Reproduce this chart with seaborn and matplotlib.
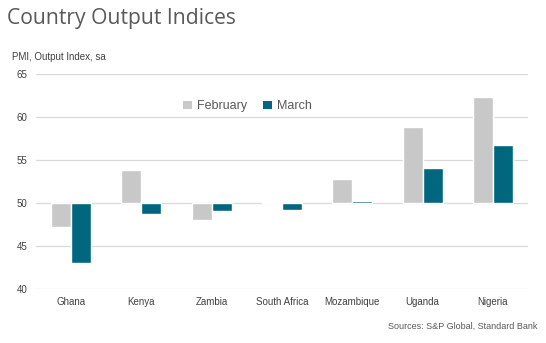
import matplotlib
matplotlib.use("Agg")
import matplotlib.pyplot as plt
from matplotlib.patches import Patch
import seaborn as sns
import pandas as pd

countries = ["Ghana", "Kenya", "Zambia", "South Africa", "Mozambique", "Uganda", "Nigeria"]
february = [47.2, 53.8, 48.0, 50.1, 52.8, 58.8, 62.3]
march = [43.0, 48.7, 49.1, 49.2, 50.3, 54.1, 56.7]
months = ["February", "March"]
colors = ["#C8C8C8", "#00677F"]
yticks = [40, 45, 50, 55, 60, 65]
baseline = 50

sns.set_theme(style="white")
plt.rcParams["font.family"] = ["Liberation Sans", "DejaVu Sans"]

df = pd.DataFrame({
    "country": countries * 2,
    "month": [months[0]] * len(countries) + [months[1]] * len(countries),
    "value": february + march,
})
df["delta"] = df["value"] - baseline

fig = plt.figure(figsize=(5.46, 3.43), dpi=100)
ax = fig.add_axes([0.066, 0.157, 0.901, 0.627])

# bars grow up or down from the 50 line
sns.barplot(data=df, x="country", y="delta", hue="month", order=countries,
            hue_order=months, palette=colors, width=0.57,
            bottom=baseline, ax=ax, saturation=1, errorbar=None, legend=False)

ax.set_ylim(40, 65)
ax.set_xlim(-0.5, len(countries) - 0.5)
ax.set_yticks(yticks)
ax.set_yticklabels([str(t) for t in yticks])
ax.grid(axis="y", color="#D9D9D9", linewidth=0.9)
ax.set_axisbelow(True)
for s in ax.spines.values():
    s.set_visible(False)
ax.tick_params(axis="both", length=0, labelsize=7, labelcolor="#404040")
ax.tick_params(axis="y", pad=6)
ax.tick_params(axis="x", pad=6)
ax.set_xlabel("")
ax.set_ylabel("")

handles = [Patch(facecolor=c, edgecolor="none", label=m) for m, c in zip(months, colors)]
leg = ax.legend(handles=handles, loc="upper center", bbox_to_anchor=(0.43, 0.93), ncol=2,
                frameon=False, fontsize=9, handlelength=0.7, handleheight=0.7,
                handletextpad=0.4, columnspacing=1.3)
for t in leg.get_texts():
    t.set_color("#595959")

fig.text(0.013, 0.945, "Country Output Indices", fontsize=15.2, color="#595959",
         family=["Open Sans", "DejaVu Sans"], va="center", ha="left")
fig.text(0.022, 0.833, "PMI, Output Index, sa", fontsize=7, color="#404040",
         va="center", ha="left")
fig.text(0.985, 0.05, "Sources: S&P Global, Standard Bank", fontsize=6.5,
         color="#595959", va="center", ha="right")

fig.savefig("out.png", dpi=100)
